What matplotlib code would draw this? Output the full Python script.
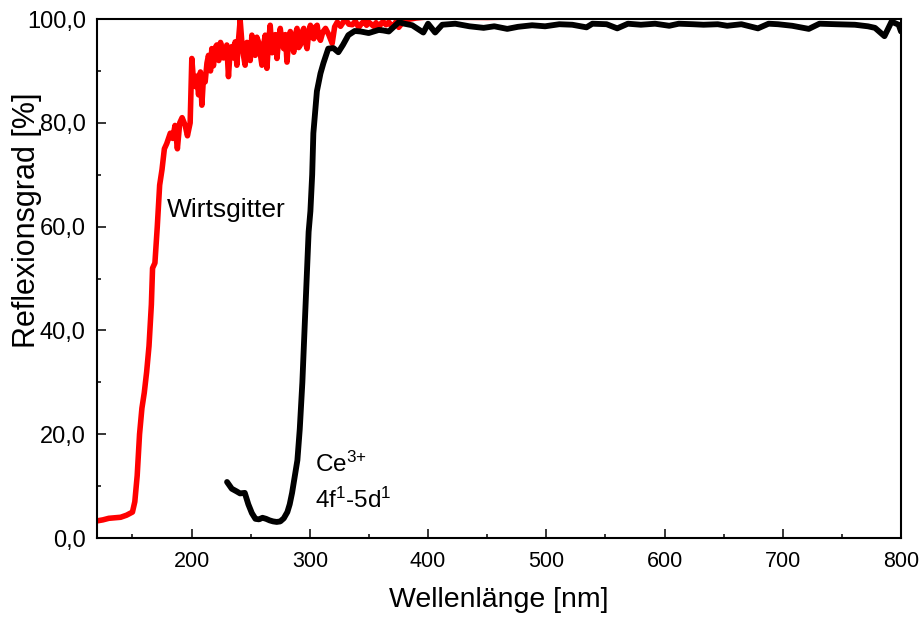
import numpy as np
import matplotlib
matplotlib.use("Agg")
import matplotlib.pyplot as plt
from matplotlib.ticker import MultipleLocator, FuncFormatter

plt.rcParams['font.family'] = ['Liberation Sans', 'DejaVu Sans']
plt.rcParams['mathtext.fontset'] = 'custom'
plt.rcParams['mathtext.rm'] = 'Liberation Sans'
plt.rcParams['mathtext.it'] = 'Liberation Sans:italic'

# Host lattice (Wirtsgitter) reflectance
host_nm = [120, 125, 130, 135, 140, 145, 150, 152, 154, 156, 158, 160, 162, 164,
           166, 167, 169, 171, 173, 175, 177, 179, 182, 184, 186, 188, 190, 192,
           194.6, 196.5, 198.8, 200.2, 201.5, 203, 204.5, 205.9, 207.5, 208.7, 210,
           211.5, 213, 214.3, 216, 217.1, 218.5, 220, 221.3, 223, 224.5, 225.6, 227,
           228.4, 229.8, 231.2, 232.5, 234, 235.5, 236.9, 238.3, 239.7, 241.1, 242.5,
           243.9, 245.3, 246.8, 248.2, 249.6, 251, 252.4, 253.8, 255.2, 256.6, 258,
           259.5, 260.9, 262.3, 263.7, 265.1, 266.5, 268, 269.4, 270.8, 272.2, 273.6,
           275, 276.4, 277.9, 279.3, 280.7, 282.1, 283.5, 285, 286.4, 287.8, 289.2,
           290.6, 292, 293.5, 294.9, 296.3, 297.7, 299.1, 300.5, 301.9, 303.3, 304.8,
           306.2, 307.6, 309, 311, 313.3, 316, 318.9, 321, 323.2, 326, 330, 333, 336,
           338.5, 341.3, 344, 346, 348, 349.8, 352, 354, 356, 358.3, 360, 362, 364.5,
           366.8, 369, 371, 373, 375.2, 380, 390, 400, 450, 500, 550, 600, 650, 700,
           750, 800]
host_refl = [3.3, 3.5, 3.8, 3.9, 4.0, 4.4, 5.0, 7.0, 12.0, 20.0, 25.0, 28.0, 32.0, 37.0,
             45.0, 52.0, 53.0, 60.0, 68.0, 71.0, 75.0, 76.0, 78.0, 77.0, 79.5, 75.0, 80.0, 81.0,
             79.5, 77.5, 80.0, 92.4, 88.5, 87.0, 89.0, 85.4, 89.8, 83.4, 88.5,
             87.9, 91.5, 93.0, 90.0, 94.3, 91.0, 94.5, 95.0, 92.0, 95.5, 94.3, 92.5,
             93.6, 95.0, 88.9, 93.5, 94.7, 92.5, 95.6, 91.1, 96.0, 99.8, 95.6,
             93.0, 91.1, 95.5, 94.3, 92.0, 96.9, 94.5, 93.0, 96.5, 95.6, 93.5,
             91.1, 95.0, 96.9, 90.5, 95.5, 98.8, 93.5, 95.0, 97.0, 92.4, 96.0,
             98.2, 95.5, 94.3, 97.0, 91.7, 96.0, 97.6, 95.0, 93.6, 97.0, 98.2,
             94.5, 95.0, 97.5, 98.2, 95.5, 94.3, 97.5, 98.8, 96.5, 96.2, 98.5,
             98.8, 96.5, 95.9, 97.5, 98.2, 97.0, 95.3, 98.5, 99.4, 98.6, 100.0, 99.0, 98.9,
             99.6, 98.4, 99.2, 99.6, 98.8, 99.4, 99.0, 98.6, 99.3, 98.2, 99.1, 99.5, 98.9,
             99.4, 98.7, 98.8, 99.5, 98.4, 99.8, 100.2, 100.4, 100.3, 100.5, 100.4, 100.6,
             100.5, 101.5, 101.5, 101.5]

# Ce3+ doped sample reflectance
ce_nm = [230, 234, 238, 241, 245, 248, 251, 254, 257, 260, 263, 266, 269, 272, 275,
         278, 281, 283, 285, 287, 289.5, 291.5, 293.7, 296, 299, 300.5, 302, 303, 306,
         309, 311.5, 315.6, 320, 324.1, 328, 332.6, 338, 343, 349.8, 358.3, 362, 366.8,
         375.3, 380, 386.6, 396, 400, 406, 412, 423, 435, 447, 456, 467, 476, 488, 499,
         511, 522, 534, 539, 551, 560, 569, 580, 592, 604, 612, 624, 633, 645, 653, 665,
         679, 688, 696, 708, 722, 731, 745, 761, 772, 778, 786, 792, 798, 800]
ce_refl = [10.8, 9.5, 9.0, 8.6, 8.7, 6.5, 4.8, 3.7, 3.6, 3.9, 3.7, 3.4, 3.2, 3.1, 3.2,
           3.8, 5.0, 6.5, 8.7, 11.5, 15.0, 21.0, 30.0, 42.7, 59.0, 63.0, 70.0, 78.0, 86.1,
           89.5, 91.5, 94.3, 94.4, 93.6, 95.0, 96.9, 97.7, 97.6, 97.3, 97.9, 97.8, 97.6,
           99.4, 99.1, 98.8, 97.4, 99.1, 97.4, 98.9, 99.1, 98.6, 98.3, 98.6, 98.1, 98.5, 98.8,
           98.6, 99.0, 98.9, 98.4, 99.1, 99.0, 98.2, 99.1, 98.9, 99.1, 98.7, 99.1, 99.0, 98.9,
           99.0, 98.7, 99.0, 98.2, 99.1, 99.0, 98.7, 98.1, 99.1, 99.0, 98.9, 98.6, 98.3, 96.7,
           99.5, 98.9, 97.6]

fig = plt.figure(figsize=(9.21, 6.18), dpi=100)
ax = fig.add_axes([0.1053, 0.1294, 0.8730, 0.8398])

ax.plot(host_nm, host_refl, color='#ff0000', lw=4.0, solid_joinstyle='round')
ax.plot(ce_nm, ce_refl, color='black', lw=4.2, solid_joinstyle='round',
        solid_capstyle='round')

ax.set_xlim(120, 800)
ax.set_ylim(0, 100)

ax.xaxis.set_major_locator(MultipleLocator(100))
ax.xaxis.set_minor_locator(MultipleLocator(50))
ax.yaxis.set_major_locator(MultipleLocator(20))
ax.yaxis.set_minor_locator(MultipleLocator(10))
ax.yaxis.set_major_formatter(FuncFormatter(lambda v, p: f"{v:.1f}".replace('.', ',')))

ax.tick_params(which='both', direction='in', top=False, right=False, width=1.1)
ax.tick_params(which='major', length=6.5)
ax.tick_params(axis='x', which='major', pad=9, labelsize=15.5)
ax.tick_params(axis='y', which='major', pad=8, labelsize=17)
ax.tick_params(which='minor', length=3.2)
for sp in ax.spines.values():
    sp.set_linewidth(1.5)

ax.text(0.5, -0.119, 'Wellenlänge [nm]', transform=ax.transAxes,
        ha='center', va='center', fontsize=20.5)
ax.text(-0.087, 0.613, 'Reflexionsgrad [%]', transform=ax.transAxes,
        ha='center', va='center', rotation=90, fontsize=22)

ax.text(179.3, 61.8, 'Wirtsgitter', fontsize=19, ha='left', va='baseline')
ax.text(304.7, 12.8, r'Ce$^{\text{3+}}$', fontsize=17.5, ha='left', va='baseline')
ax.text(304.7, 5.8, r'4f$^{\text{1}}$-5d$^{\text{1}}$', fontsize=17.5,
        ha='left', va='baseline')

fig.savefig('out.png', dpi=100)
